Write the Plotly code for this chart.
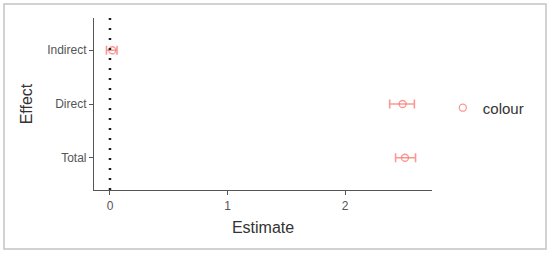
import plotly.graph_objects as go

effects = ["Total", "Direct", "Indirect"]
estimate = [2.51, 2.49, 0.02]
ci_low = [2.43, 2.38, -0.03]
ci_high = [2.60, 2.59, 0.06]
ref_x = 0
x_ticks = [0, 1, 2]
legend_name = "colour"

col = "rgba(248,118,109,0.75)"
err_plus = [h - e for h, e in zip(ci_high, estimate)]
err_minus = [e - l for e, l in zip(estimate, ci_low)]

fig = go.Figure()
fig.add_trace(go.Scatter(
    x=estimate, y=effects, mode="markers", name=legend_name,
    marker=dict(symbol="circle-open", size=7, color=col, line=dict(width=1.3, color=col)),
    error_x=dict(type="data", symmetric=False, array=err_plus, arrayminus=err_minus,
                 color=col, thickness=1.6, width=4.5),
    showlegend=True, hoverinfo="skip"))

fig.add_shape(type="line", xref="x", yref="paper", x0=ref_x, x1=ref_x, y0=0, y1=1,
              line=dict(color="#222222", width=2.5, dash="2px,8px"), layer="above")

# outer frame
fig.add_shape(type="rect", xref="paper", yref="paper",
              x0=-90/338, x1=452/338, y0=-59/172, y1=186/172,
              line=dict(color="#C4C4C4", width=1.5), fillcolor="rgba(0,0,0,0)")

axis_common = dict(showline=True, linecolor="#555555", linewidth=1.2, ticks="outside",
                   ticklen=4, tickcolor="#555555", tickwidth=1.1, showgrid=False,
                   zeroline=False, tickfont=dict(size=12, color="#555555"))

fig.update_layout(
    width=550, height=254,
    margin=dict(l=94, r=118, t=18, b=64, autoexpand=False),
    paper_bgcolor="white", plot_bgcolor="white",
    font=dict(family="Liberation Sans, Arial, sans-serif", color="#333333"),
    xaxis=dict(range=[-0.136, 2.74], tickvals=x_ticks,
               title=dict(text="Estimate", font=dict(size=16, color="#333333"), standoff=10),
               **axis_common),
    yaxis=dict(range=[-0.6, 2.6], categoryorder="array", categoryarray=effects,
               title=dict(text="Effect", font=dict(size=16, color="#333333"), standoff=10),
               **axis_common),
    legend=dict(x=1.032, y=0.477, xanchor="left", yanchor="middle",
                font=dict(size=15, color="#333333"),
                bgcolor="rgba(0,0,0,0)"),
)

fig.write_html("out.html", config={"displayModeBar": False},
               post_script="document.body.style.margin='0';")
